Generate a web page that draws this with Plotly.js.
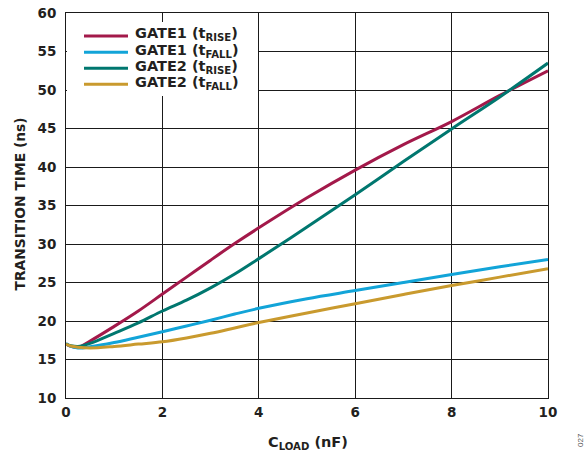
<!DOCTYPE html>
<html>
<head>
<meta charset="utf-8">
<script src="https://cdn.plot.ly/plotly-3.0.1.min.js"></script>
<style>html,body{margin:0;padding:0;background:#fff;}#chart{width:587px;height:456px;}</style>
</head>
<body>
<div id="chart"></div>
<script>
const cload = [0, 0.1, 0.25, 0.5, 1, 1.5, 2, 2.5, 3, 3.5, 4, 5, 6, 7, 8, 9, 10];
const gate1Rise = [17.0, 16.7, 16.6, 17.4, 19.3, 21.3, 23.5, 25.7, 27.9, 30.05, 32.1, 36.0, 39.6, 42.9, 45.9, 49.3, 52.5];
const gate1Fall = [17.1, 16.7, 16.5, 16.65, 17.2, 17.9, 18.6, 19.35, 20.1, 20.9, 21.65, 22.9, 23.95, 25.0, 26.05, 27.05, 28.0];
const gate2Rise = [17.0, 16.8, 16.7, 17.1, 18.4, 19.75, 21.3, 22.7, 24.3, 26.1, 28.1, 32.2, 36.4, 40.7, 44.95, 49.1, 53.5];
const gate2Fall = [17.0, 16.75, 16.6, 16.5, 16.7, 17.0, 17.3, 17.8, 18.4, 19.1, 19.8, 21.05, 22.25, 23.45, 24.6, 25.7, 26.8];
const names = ['GATE1 (t<sub>RISE</sub>)', 'GATE1 (t<sub>FALL</sub>)', 'GATE2 (t<sub>RISE</sub>)', 'GATE2 (t<sub>FALL</sub>)'];
const colors = ['#A3194A', '#12A4D8', '#00776F', '#C99A2E'];
const xTicks = [0, 2, 4, 6, 8, 10];
const yTicks = [10, 15, 20, 25, 30, 35, 40, 45, 50, 55, 60];

const W = 587, H = 456, L = 66, R = 39, T = 13, B = 58;
const pw = W - L - R, ph = H - T - B;
const px = v => (v - L) / pw;          // pixel -> paper x
const py = v => (H - B - v) / ph;      // pixel -> paper y

const FAM = '"DejaVu Sans", "Liberation Sans", Arial, sans-serif';
const INK = '#231f20';

const series = [gate1Rise, gate1Fall, gate2Rise, gate2Fall];
const traces = series.map((s, i) => ({
  x: cload, y: s, name: names[i], type: 'scatter', mode: 'lines', showlegend: false,
  line: {color: colors[i], width: 3, shape: 'spline', smoothing: 1}
}));

// legend drawn as paper-space decorations
const legendRows = [36, 52.3, 68.3, 84.3];
const shapes = [{type: 'rect', xref: 'paper', yref: 'paper', layer: 'above',
  x0: px(67), x1: px(258), y0: py(96), y1: py(22), fillcolor: '#fff', line: {width: 0}}];
const annotations = [];
names.forEach((n, i) => {
  shapes.push({type: 'line', xref: 'paper', yref: 'paper', layer: 'above',
    x0: px(84), x1: px(128), y0: py(legendRows[i]), y1: py(legendRows[i]),
    line: {color: colors[i], width: 3}});
  annotations.push({text: n, xref: 'paper', yref: 'paper', x: px(133), y: py(legendRows[i] - 1.5),
    xanchor: 'left', yanchor: 'middle', showarrow: false,
    font: {family: FAM, size: 14.5, color: INK, weight: 'bold'}});
});
annotations.push(
  {text: 'TRANSITION TIME (ns)', xref: 'paper', yref: 'paper', x: px(19.5), y: py(204),
   xanchor: 'center', yanchor: 'middle', textangle: -90, showarrow: false,
   font: {family: FAM, size: 13.8, color: INK, weight: 'bold'}},
  {text: 'C<sub>LOAD</sub> (nF)', xref: 'paper', yref: 'paper', x: px(308), y: py(443),
   xanchor: 'center', yanchor: 'middle', showarrow: false,
   font: {family: FAM, size: 14.5, color: INK, weight: 'bold'}},
  {text: '027', xref: 'paper', yref: 'paper', x: px(580), y: py(440),
   xanchor: 'center', yanchor: 'middle', textangle: -90, showarrow: false,
   font: {family: '"Liberation Sans", Arial, sans-serif', size: 8, color: '#555'}}
);

const layout = {
  width: W, height: H,
  margin: {l: L, r: R, t: T, b: B},
  paper_bgcolor: '#fff', plot_bgcolor: '#fff',
  font: {family: FAM, size: 13.5, color: INK},
  showlegend: false,
  xaxis: {
    range: [0, 10], tickvals: xTicks, ticktext: xTicks.map(String),
    showgrid: true, gridcolor: '#1a1a1a', gridwidth: 1,
    showline: true, linecolor: '#1a1a1a', linewidth: 1, mirror: true,
    ticks: '', zeroline: false, fixedrange: true, ticklabelstandoff: 2,
    tickfont: {family: FAM, size: 13.5, color: INK, weight: 'bold'}
  },
  yaxis: {
    range: [10, 60], tickvals: yTicks, ticktext: yTicks.map(String),
    showgrid: true, gridcolor: '#1a1a1a', gridwidth: 1,
    showline: true, linecolor: '#1a1a1a', linewidth: 1, mirror: true,
    ticks: '', zeroline: false, fixedrange: true, ticklabelstandoff: 6,
    tickfont: {family: FAM, size: 13.5, color: INK, weight: 'bold'}
  },
  shapes: shapes,
  annotations: annotations
};
Plotly.newPlot('chart', traces, layout, {displayModeBar: false, staticPlot: true});
</script>
</body>
</html>
